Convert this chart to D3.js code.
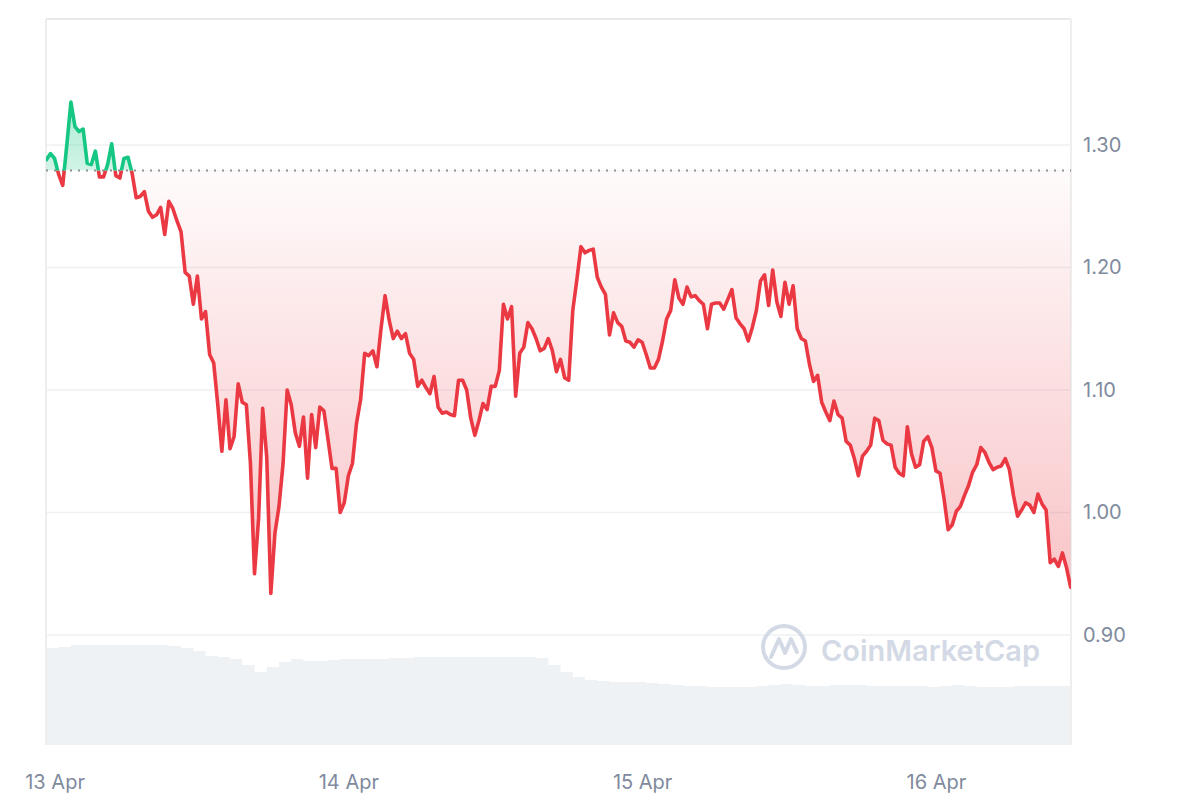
<!DOCTYPE html>
<html>
<head>
<meta charset="utf-8">
<script src="https://cdn.jsdelivr.net/npm/d3@7"></script>
<style>
  html, body { margin: 0; padding: 0; background: #ffffff; }
  svg { display: block; }
</style>
</head>
<body>
<svg id="chart" width="1200" height="800"></svg>
<script>
// ---------------- DATA ----------------
// price samples every 20 minutes starting 12 Apr 23:20
const priceStart = "2024-04-12T23:20:00";
const priceStepMinutes = 20;
const prices = [
  1.288, 1.293, 1.289, 1.276, 1.267, 1.300, 1.335, 1.315, 1.311, 1.313,
  1.285, 1.284, 1.295, 1.274, 1.274, 1.284, 1.301, 1.275, 1.273, 1.289,
  1.290, 1.277, 1.257, 1.258, 1.262, 1.246, 1.241, 1.243, 1.249, 1.227,
  1.254, 1.248, 1.238, 1.229, 1.196, 1.193, 1.170, 1.193, 1.158, 1.164,
  1.129, 1.122, 1.088, 1.050, 1.092, 1.052, 1.062, 1.105, 1.090, 1.088,
  1.040, 0.950, 0.995, 1.085, 1.045, 0.934, 0.983, 1.005, 1.040, 1.100,
  1.088, 1.065, 1.054, 1.078, 1.028, 1.080, 1.053, 1.086, 1.083, 1.060,
  1.036, 1.036, 1.000, 1.008, 1.030, 1.040, 1.073, 1.092, 1.130, 1.128,
  1.132, 1.119, 1.150, 1.177, 1.157, 1.142, 1.148, 1.142, 1.146, 1.130,
  1.125, 1.103, 1.108, 1.102, 1.097, 1.111, 1.086, 1.081, 1.082, 1.080,
  1.079, 1.108, 1.108, 1.100, 1.077, 1.063, 1.075, 1.089, 1.084, 1.103,
  1.103, 1.116, 1.170, 1.158, 1.168, 1.095, 1.130, 1.135, 1.155, 1.150,
  1.142, 1.132, 1.134, 1.142, 1.132, 1.115, 1.125, 1.110, 1.108, 1.165,
  1.190, 1.217, 1.212, 1.214, 1.215, 1.192, 1.184, 1.178, 1.145, 1.163,
  1.155, 1.152, 1.140, 1.139, 1.135, 1.141, 1.139, 1.129, 1.118, 1.118,
  1.125, 1.140, 1.158, 1.165, 1.190, 1.175, 1.170, 1.184, 1.176, 1.177,
  1.173, 1.170, 1.150, 1.170, 1.171, 1.171, 1.166, 1.174, 1.182, 1.159,
  1.154, 1.150, 1.140, 1.151, 1.165, 1.189, 1.194, 1.169, 1.198, 1.172,
  1.160, 1.188, 1.170, 1.185, 1.150, 1.142, 1.140, 1.121, 1.107, 1.112,
  1.090, 1.082, 1.075, 1.091, 1.080, 1.077, 1.058, 1.055, 1.044, 1.030,
  1.046, 1.050, 1.055, 1.077, 1.075, 1.059, 1.056, 1.055, 1.037, 1.032,
  1.030, 1.070, 1.048, 1.037, 1.039, 1.058, 1.062, 1.053, 1.034, 1.032,
  1.011, 0.986, 0.990, 1.001, 1.005, 1.014, 1.022, 1.033, 1.039, 1.053,
  1.049, 1.041, 1.035, 1.037, 1.038, 1.044, 1.035, 1.014, 0.997, 1.002,
  1.008, 1.006, 1.000, 1.015, 1.007, 1.002, 0.959, 0.962, 0.956, 0.967,
  0.955, 0.939
];
// reference (opening) price shown as the dotted line
const baselinePrice = 1.2792;

// volume samples (millions) every hour starting 12 Apr 23:20
const volumeStart = "2024-04-12T23:20:00";
const volumeStepMinutes = 60;
const volumes = [
  97, 98, 100, 100, 100, 100, 100, 100, 100, 100,
  99, 97, 94, 89, 88, 86, 80, 73, 78, 83,
  86, 84, 84, 85, 86, 86, 86, 86, 87, 87,
  88, 88, 88, 88, 88, 88, 88, 88, 88, 88,
  87, 80, 73, 68, 65, 64, 63, 63, 63, 62,
  61, 60, 59, 59, 58, 58, 58, 58, 59, 60,
  61, 60, 59, 59, 60, 60, 60, 59, 59, 59,
  59, 59, 58, 59, 60, 59, 58, 58, 58, 59,
  59, 59, 59, 59, 59
];

const yTickValues = [0.90, 1.00, 1.10, 1.20, 1.30];
const xTickDates = ["2024-04-13T00:00:00", "2024-04-14T00:00:00", "2024-04-15T00:00:00", "2024-04-16T00:00:00"];
const xTickLabels = ["13 Apr", "14 Apr", "15 Apr", "16 Apr"];
const domainStart = "2024-04-12T23:18:00";
const domainEnd = "2024-04-16T11:02:00";

// ---------------- CHART ----------------
const svg = d3.select("#chart");
const L = 46, R = 1071, T = 19, B = 745;
const RED = "#ea3943", GREEN = "#16c784", LABEL = "#808a9d", GRID = "#eff0f2";

const parse = s => new Date(s);
const priceData = prices.map((p, i) => ({ t: new Date(parse(priceStart).getTime() + i * priceStepMinutes * 60000), p }));
const volData = volumes.map((v, i) => ({ t: new Date(parse(volumeStart).getTime() + i * volumeStepMinutes * 60000), v }));

const x = d3.scaleTime().domain([parse(domainStart), parse(domainEnd)]).range([L, R]);
const y = d3.scaleLinear().domain([0.90, 1.30]).range([635, 145]);
const yVol = d3.scaleLinear().domain([0, 100]).range([B, 645]);
const yBase = y(baselinePrice);

const defs = svg.append("defs");
defs.append("clipPath").attr("id", "plot").append("rect").attr("x", L).attr("y", T).attr("width", R - L).attr("height", B - T);
defs.append("clipPath").attr("id", "above").append("rect").attr("x", L).attr("y", 0).attr("width", R - L).attr("height", yBase);
defs.append("clipPath").attr("id", "below").append("rect").attr("x", L).attr("y", yBase).attr("width", R - L).attr("height", B - yBase);

const yMin = y(d3.min(prices)), yMax = y(d3.max(prices));
const gRed = defs.append("linearGradient").attr("id", "gradRed").attr("gradientUnits", "userSpaceOnUse")
  .attr("x1", 0).attr("x2", 0).attr("y1", yBase).attr("y2", yMin);
gRed.append("stop").attr("offset", 0).attr("stop-color", RED).attr("stop-opacity", 0.02);
gRed.append("stop").attr("offset", 1).attr("stop-color", RED).attr("stop-opacity", 0.3);
const gGreen = defs.append("linearGradient").attr("id", "gradGreen").attr("gradientUnits", "userSpaceOnUse")
  .attr("x1", 0).attr("x2", 0).attr("y1", yMax).attr("y2", yBase);
gGreen.append("stop").attr("offset", 0).attr("stop-color", GREEN).attr("stop-opacity", 0.35);
gGreen.append("stop").attr("offset", 1).attr("stop-color", GREEN).attr("stop-opacity", 0.2);

// grid lines
svg.append("g").selectAll("line").data(yTickValues).join("line")
  .attr("x1", L).attr("x2", R).attr("y1", d => y(d)).attr("y2", d => y(d))
  .attr("stroke", GRID).attr("stroke-width", 1.5);

// volume area
svg.append("path").datum(volData)
  .attr("clip-path", "url(#plot)")
  .attr("fill", "#eff2f5")
  .attr("d", d3.area().curve(d3.curveStepAfter).x(d => x(d.t)).y0(B).y1(d => yVol(d.v)));

// frame
svg.append("line").attr("x1", L).attr("x2", R).attr("y1", T).attr("y2", T).attr("stroke", "#e9e9e9").attr("stroke-width", 2);
svg.append("line").attr("x1", L).attr("x2", L).attr("y1", T).attr("y2", B).attr("stroke", "#eeeeee").attr("stroke-width", 2);
svg.append("line").attr("x1", R).attr("x2", R).attr("y1", T).attr("y2", B).attr("stroke", "#eeeeee").attr("stroke-width", 2);

// watermark
const wm = svg.append("g").attr("opacity", 1);
wm.append("circle").attr("cx", 784).attr("cy", 647).attr("r", 21).attr("fill", "none").attr("stroke", "#d3d9e5").attr("stroke-width", 4);
wm.append("path").attr("d", "M771,657 L779,639 L785,653 L791,639 L797,652")
  .attr("fill", "none").attr("stroke", "#d3d9e5").attr("stroke-width", 4).attr("stroke-linejoin", "round").attr("stroke-linecap", "round");
wm.append("text").attr("x", 821).attr("y", 661).text("CoinMarketCap")
  .attr("font-family", "Inter, 'Open Sans', sans-serif").attr("font-weight", 600).attr("font-size", 29)
  .attr("fill", "#d3d9e5");

// fills
const area = d3.area().x(d => x(d.t)).y0(yBase).y1(d => y(d.p));
svg.append("path").datum(priceData).attr("clip-path", "url(#below)").attr("fill", "url(#gradRed)").attr("d", area);
svg.append("path").datum(priceData).attr("clip-path", "url(#above)").attr("fill", "url(#gradGreen)").attr("d", area);

// baseline
svg.append("line").attr("x1", L).attr("x2", R).attr("y1", yBase).attr("y2", yBase)
  .attr("stroke", "#8f8f8f").attr("stroke-width", 2).attr("stroke-dasharray", "2,6");

// lines
const line = d3.line().x(d => x(d.t)).y(d => y(d.p));
svg.append("path").datum(priceData).attr("clip-path", "url(#below)")
  .attr("fill", "none").attr("stroke", RED).attr("stroke-width", 3.6).attr("stroke-linejoin", "round").attr("stroke-linecap", "round").attr("d", line);
svg.append("path").datum(priceData).attr("clip-path", "url(#above)")
  .attr("fill", "none").attr("stroke", GREEN).attr("stroke-width", 3.6).attr("stroke-linejoin", "round").attr("stroke-linecap", "round").attr("d", line);

// y axis (right)
const yAxis = d3.axisRight(y).tickValues(yTickValues).tickFormat(d3.format(".2f")).tickSize(0).tickPadding(12);
const gy = svg.append("g").attr("transform", `translate(${R},0)`).call(yAxis);
gy.select(".domain").remove();
gy.selectAll("text").attr("fill", LABEL).attr("font-size", 20).attr("font-family", "Inter, sans-serif");

// x axis (bottom)
const xAxis = d3.axisBottom(x).tickValues(xTickDates.map(parse)).tickFormat((d, i) => xTickLabels[i]).tickSize(0).tickPadding(30);
const gx = svg.append("g").attr("transform", `translate(0,${B})`).call(xAxis);
gx.select(".domain").remove();
gx.selectAll("text").attr("fill", LABEL).attr("font-size", 20).attr("font-family", "Inter, sans-serif");
</script>
</body>
</html>
